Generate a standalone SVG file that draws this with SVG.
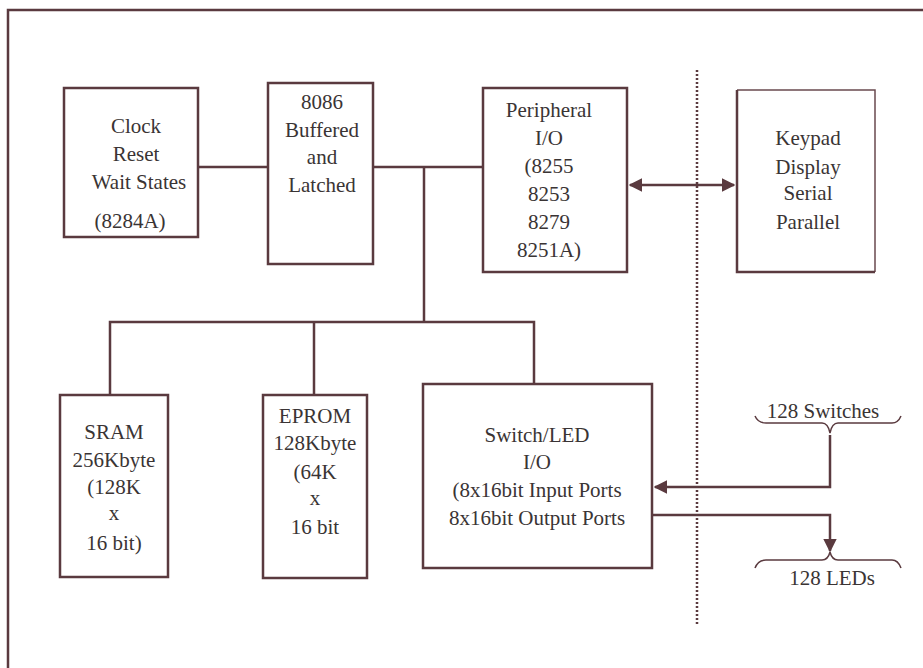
<svg xmlns="http://www.w3.org/2000/svg" width="923" height="668" viewBox="0 0 923 668">
<defs>
<style>
.box{fill:none;stroke:#5a3a3f;stroke-width:2.5}
.thin{fill:none;stroke:#6a4a4f;stroke-width:1.5}
.ln{fill:none;stroke:#5a3a3f;stroke-width:2.5}
.br{fill:none;stroke:#5a3a3f;stroke-width:1.5}
text{font-family:"Liberation Serif","Times New Roman",serif;font-size:21px;fill:#3a3434;text-anchor:middle}
</style>
<marker id="ah" viewBox="0 0 10 10" refX="9" refY="5" markerWidth="5.5" markerHeight="5.5" orient="auto-start-reverse" markerUnits="strokeWidth">
<path d="M0,0 L10,5 L0,10 z" fill="#5a3a3f"/>
</marker>
</defs>
<rect width="923" height="668" fill="#ffffff"/>
<g id="frame">
<path class="ln" d="M8,668 L8,10 L923,10"/>
</g>
<g id="connectors">
<path class="ln" d="M198,167 L268,167"/>
<path class="ln" d="M373,167 L483,167"/>
<path class="ln" d="M424,167 L424,322"/>
<path class="ln" d="M110,395 L110,322 L534,322 L534,384"/>
<path class="ln" d="M314,322 L314,395"/>
<path class="ln" d="M630,185 L734,185" marker-start="url(#ah)" marker-end="url(#ah)"/>
<path class="ln" d="M830,435 L830,487 L655,487" marker-end="url(#ah)"/>
<path class="ln" d="M652,515 L830,515 L830,551" marker-end="url(#ah)"/>
<path d="M697,70 L697,626" fill="none" stroke="#5a3a3f" stroke-width="2.5" stroke-dasharray="2 2"/>
</g>
<g id="clock">
<rect class="box" x="64" y="88" width="134" height="149"/>
<text x="136" y="133">Clock</text>
<text x="136" y="161">Reset</text>
<text x="139" y="189">Wait States</text>
<text x="130" y="228">(8284A)</text>
</g>
<g id="cpu">
<rect class="box" x="268" y="83" width="105" height="181"/>
<text x="322" y="109">8086</text>
<text x="322" y="137">Buffered</text>
<text x="322" y="164">and</text>
<text x="322" y="192">Latched</text>
</g>
<g id="peripheral">
<rect class="box" x="483" y="88" width="144" height="184"/>
<text x="549" y="117">Peripheral</text>
<text x="549" y="145">I/O</text>
<text x="549" y="173">(8255</text>
<text x="549" y="201">8253</text>
<text x="549" y="229">8279</text>
<text x="549" y="257">8251A)</text>
</g>
<g id="keypad">
<path class="thin" d="M737,90 L875,90 L875,272"/>
<path class="box" d="M737,90 L737,272 L875,272"/>
<text x="808" y="145">Keypad</text>
<text x="808" y="174">Display</text>
<text x="808" y="200">Serial</text>
<text x="808" y="229">Parallel</text>
</g>
<g id="sram">
<rect class="box" x="60" y="395" width="108" height="182"/>
<text x="114" y="439">SRAM</text>
<text x="114" y="467">256Kbyte</text>
<text x="114" y="494">(128K</text>
<text x="114" y="520">x</text>
<text x="114" y="550">16 bit)</text>
</g>
<g id="eprom">
<rect class="box" x="263" y="395" width="104" height="183"/>
<text x="315" y="423">EPROM</text>
<text x="315" y="450">128Kbyte</text>
<text x="315" y="479">(64K</text>
<text x="315" y="505">x</text>
<text x="315" y="534">16 bit</text>
</g>
<g id="switchled">
<rect class="box" x="423" y="384" width="229" height="184"/>
<text x="537" y="442">Switch/LED</text>
<text x="537" y="469">I/O</text>
<text x="537" y="497">(8x16bit Input Ports</text>
<text x="537" y="525">8x16bit Output Ports</text>
</g>
<g id="switches">
<path class="br" d="M755,416 Q758,423 766,423 L822,423 Q828,423 830,433 Q832,423 838,423 L892,423 Q898,423 901,416"/>
<text x="823" y="418">128 Switches</text>
</g>
<g id="leds">
<path class="br" d="M755,568 Q758,560 766,560 L822,560 Q828,560 830,552 Q832,560 838,560 L892,560 Q898,560 901,568"/>
<text x="832" y="585">128 LEDs</text>
</g>
</svg>
